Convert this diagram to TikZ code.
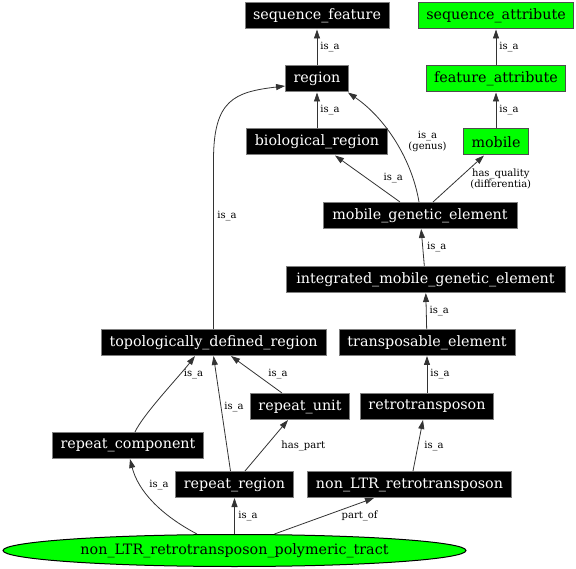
\documentclass[tikz,border=0pt]{standalone}
\usepackage{fontspec}
\setmainfont{DejaVu Serif}
\usetikzlibrary{positioning,shapes.geometric,arrows.meta}
\definecolor{Lime}{HTML}{00FF00}
\definecolor{Rim}{HTML}{7F7F7F}
\definecolor{GreenRim}{HTML}{4D4D4D}
\definecolor{Black80}{HTML}{333333}

\begin{document}
\begin{tikzpicture}[x=1pt, y=-1pt,
  term/.style={rectangle, draw=Rim, fill=black, text=white, line width=1pt,
    minimum height=26pt, inner xsep=8pt, inner ysep=2pt,
    font=\fontsize{14.3}{16}\selectfont},
  quality/.style={term, draw=GreenRim, fill=Lime, text=black},
  relarrow/.style={draw=Black80, line width=0.8pt, -{Triangle[length=9pt,width=6pt]}},
  rellabel/.style={font=\fontsize{10}{11}\selectfont, inner sep=2pt, align=center}]
\useasboundingbox (0,0) rectangle (576,569);

% Sequence ontology terms
\node[term, minimum width=143pt] (seqfeat) at (317,16) {sequence\_feature};
\node[term] (region) at (317,79) {region};
\node[term, minimum width=141pt] (bioreg) at (317,142) {biological\_region};
\node[term, minimum width=194pt] (mge) at (420,215.5) {mobile\_genetic\_element};
\node[term, minimum width=279pt] (imge) at (425.5,279.5) {integrated\_mobile\_genetic\_element};
\node[term, minimum width=225pt] (tdr) at (213.5,342.5) {topologically\_defined\_region};
\node[term, minimum width=176pt] (te) at (427,342.5) {transposable\_element};
\node[term, minimum width=98pt] (runit) at (300,406.5) {repeat\_unit};
\node[term] (retro) at (427,406.5) {retrotransposon};
\node[term, minimum width=150pt] (rcomp) at (128,445.5) {repeat\_component};
\node[term, minimum width=117pt] (rreg) at (234.5,484.5) {repeat\_region};
\node[term, minimum width=203pt] (nonltr) at (409.5,484.5) {non\_LTR\_retrotransposon};

% Attributes
\node[quality, minimum width=154pt] (seqattr) at (496,16) {sequence\_attribute};
\node[quality, minimum width=138pt] (featattr) at (496,79) {feature\_attribute};
\node[quality] (mobile) at (496,142) {mobile};

% Defined term
\node[ellipse, draw=black, fill=Lime, line width=1pt, minimum width=463pt, minimum height=32pt,
  inner sep=0pt, font=\fontsize{14.3}{16}\selectfont] (tract) at (234.5,550.5)
  {non\_LTR\_retrotransposon\_polymeric\_tract};

% Upper hierarchy
\draw[relarrow] (region) -- node[rellabel, right=1pt] {is\_a} (seqfeat);
\draw[relarrow] (bioreg) -- node[rellabel, right=1pt] {is\_a} (region);
\draw[relarrow] (featattr) -- node[rellabel, right=1pt] {is\_a} (seqattr);
\draw[relarrow] (mobile) -- node[rellabel, right=1pt] {is\_a} (featattr);
\draw[relarrow] ([xshift=-20pt]mge.north) -- node[rellabel, pos=.52, right=15pt] {is\_a} ([xshift=18pt]bioreg.south);
\draw[relarrow] ([xshift=-1pt]mge.north) .. controls +(-7,-42) and +(38,26) .. node[rellabel, pos=.5, right=11pt] {is\_a\\(genus)} ([xshift=-1pt]region.south east);
\draw[relarrow] ([xshift=13pt]mge.north) -- node[rellabel, right=9.5pt] {has\_quality\\(differentia)} ([xshift=-12pt]mobile.south);

% Mobile element chain
\draw[relarrow] (imge) -- node[rellabel, right=2pt] {is\_a} (mge);
\draw[relarrow] (te) -- node[rellabel, right=1pt] {is\_a} (imge);
\draw[relarrow] (retro) -- node[rellabel, right=1pt] {is\_a} (te);
\draw[relarrow] ([xshift=3.5pt]nonltr.north) -- node[rellabel, right=4pt] {is\_a} ([xshift=-4pt]retro.south);

% Repeat branch
\draw[relarrow] (tdr.north) -- node[rellabel, pos=.67, right=1.5pt] {is\_a} ++(0,-169) .. controls +(0,-60) and +(-51,6) .. ([yshift=-7pt]region.west);
\draw[relarrow] ([xshift=7pt]rcomp.north) .. controls +(8,-17.5) and +(-15,19.5) .. node[rellabel, pos=.75, right=1pt] {is\_a} ([xshift=-18.5pt]tdr.south);
\draw[relarrow] ([xshift=-4pt]rreg.north) -- node[rellabel, pos=.56, right=1pt] {is\_a} (tdr.south);
\draw[relarrow] ([xshift=-18pt]runit.north) -- node[rellabel, right=9.5pt] {is\_a} ([xshift=17.5pt]tdr.south);
\draw[relarrow] ([xshift=10.5pt]rreg.north) -- node[rellabel, right=12.5pt] {has\_part} ([xshift=-12pt]runit.south);

% Polymeric tract
\draw[relarrow] ([xshift=-37.5pt]tract.north) .. controls +(-37,-19.5) and +(8,31.5) .. node[rellabel, pos=.7, right=6pt] {is\_a} ([xshift=2pt]rcomp.south);
\draw[relarrow] (tract.north) -- node[rellabel, right=1.5pt] {is\_a} (rreg.south);
\draw[relarrow] ([xshift=40pt]tract.north) -- node[rellabel, right=15pt] {part\_of} ([xshift=-35.5pt]nonltr.south);
\end{tikzpicture}
\end{document}
